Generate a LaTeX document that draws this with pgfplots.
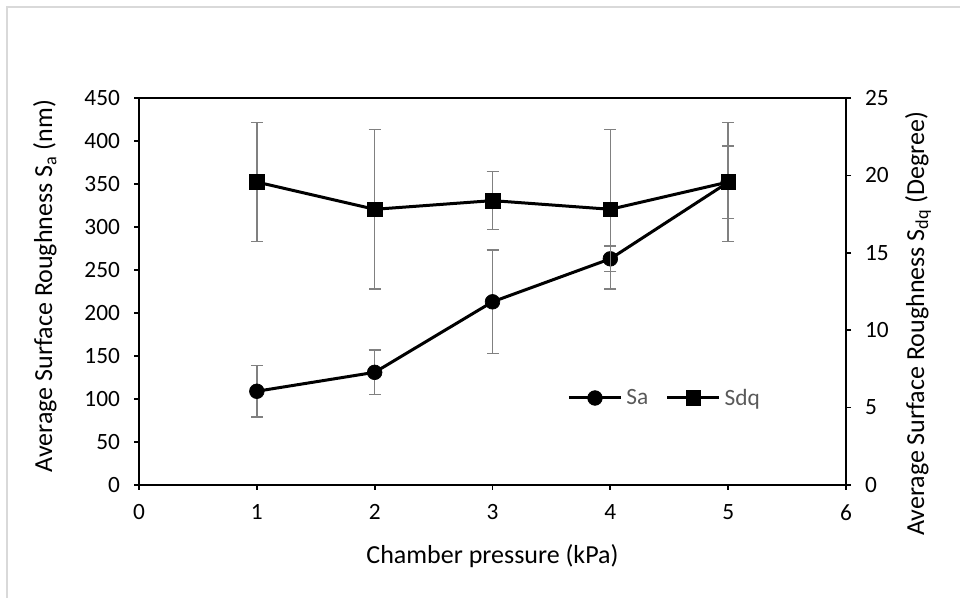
\documentclass[border=0pt]{standalone}
\usepackage{pgfplots}
\pgfplotsset{compat=1.18}
\usepackage{fontspec}
\setmainfont{Carlito}
\definecolor{bordergray}{RGB}{217,217,217}
\definecolor{errgray}{RGB}{128,128,128}
\definecolor{leggray}{RGB}{89,89,89}
\pgfplotstableread{
x y e
1 109 30
2 131 26
3 213 60
4 263 15
5 352 42
}\sadata
\pgfplotstableread{
x y e
1 19.57 3.85
2 17.81 5.16
3 18.37 1.87
4 17.81 5.16
5 19.57 3.85
}\sdqdata
\pgfplotsset{
  common/.style={
    scale only axis, width=530.25pt, height=290.25pt,
    at={(104.25pt,84.75pt)}, anchor=south west,
    xmin=0, xmax=6,
    tick align=outside, major tick length=3.75pt,
    axis line style={line width=1.3pt, black},
    major tick style={line width=1.3pt, black},
    tick label style={font=\fontsize{17.5}{20}\selectfont},
    label style={font=\fontsize{19.5}{22}\selectfont},
    /pgf/number format/assume math mode=true,
  },
  errstyle/.style={
    error bars/.cd, y dir=both, y explicit,
    error bar style={errgray, line width=1.1pt},
    error mark options={errgray, rotate=90, mark size=4.5pt, line width=1.1pt},
  },
}
\begin{document}
\begin{tikzpicture}[x=0.75pt,y=0.75pt]
\useasboundingbox (0,0) rectangle (960,598);
\draw[bordergray, line width=1.5pt] (6.5,0) -- (6.5,590.5) -- (960,590.5);
\begin{axis}[common,
  ymin=0, ymax=450, ytick={0,50,...,450}, xtick={0,...,6},
  xtick pos=bottom, ytick pos=left,
  xticklabel style={yshift=-7.5pt},
  yticklabel style={xshift=-7pt},
  xlabel={Chamber pressure (kPa)},
  xlabel style={at={(axis description cs:0.5,-0.2016)}, anchor=base},
  ylabel={Average Surface Roughness S\textsubscript{a} (nm)},
  ylabel style={at={(axis description cs:-0.133,0.514)}, anchor=center},
]
\addplot[black, line width=2.25pt, mark=*, mark size=5.5pt, mark options={solid, line width=0.5pt}, errstyle]
  table[x=x, y=y, y error=e] {\sadata};
\end{axis}
\begin{axis}[common,
  ymin=0, ymax=25, ytick={0,5,...,25},
  axis x line=none, axis y line*=right, ytick pos=right,
  yticklabel style={xshift=7pt},
  ylabel={Average Surface Roughness S\textsubscript{dq} (Degree)},
  ylabel style={at={(axis description cs:1.102,0.416)}, anchor=center, rotate=0},
  legend style={at={(axis description cs:0.600,0.2248)}, anchor=west, draw=none, fill=none,
    font=\fontsize{17.5}{20}\selectfont, text=leggray,
    nodes={inner xsep=2pt},
    /tikz/every odd column/.append style={column sep=1pt},
    /tikz/every even column/.append style={column sep=11pt}},
  legend columns=2,
  legend image code/.code={\draw[mark repeat=2, mark phase=2, #1] plot coordinates {(0pt,0pt)(19.5pt,0pt)(39pt,0pt)};},
]
\addlegendimage{black, line width=2.25pt, mark=*, mark size=5.5pt, mark options={solid, line width=0.5pt}}
\addlegendentry{Sa}
\addplot[black, line width=2.25pt, mark=square*, mark size=5.5pt, mark options={solid, line width=0.5pt}, errstyle]
  table[x=x, y=y, y error=e] {\sdqdata};
\addlegendentry{Sdq}
\end{axis}
\end{tikzpicture}
\end{document}
